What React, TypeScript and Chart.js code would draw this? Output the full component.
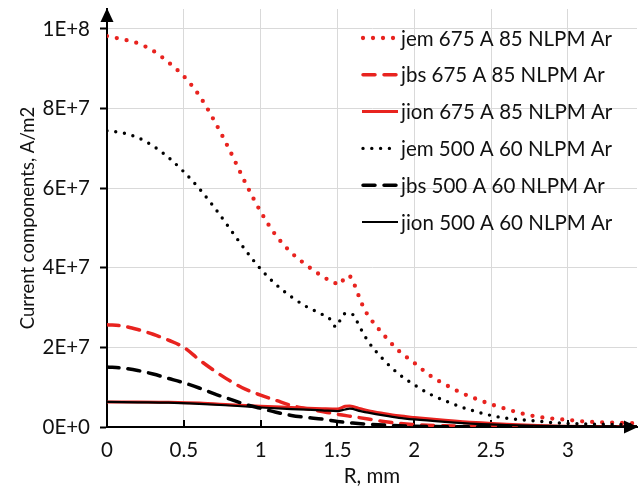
import React, { useEffect, useRef } from "react";
import { Chart, registerables } from "chart.js";

Chart.register(...registerables);

// ---------- data ----------
const seriesLabels = [
  "jem 675 A 85 NLPM Ar",
  "jbs 675 A 85 NLPM Ar",
  "jion 675 A 85 NLPM Ar",
  "jem 500 A 60 NLPM Ar",
  "jbs 500 A 60 NLPM Ar",
  "jion 500 A 60 NLPM Ar",
];

const xTickValues = [0, 0.5, 1, 1.5, 2, 2.5, 3];
const xTickLabels = ["0", "0.5", "1", "1.5", "2", "2.5", "3"];
const yTickValues = [0, 2e7, 4e7, 6e7, 8e7, 1e8];
const yTickLabels = ["0E+0", "2E+7", "4E+7", "6E+7", "8E+7", "1E+8"];

const jem675X = [0, 0.1, 0.2, 0.3, 0.4, 0.5, 0.6, 0.7, 0.8, 0.9, 1.0, 1.1, 1.2, 1.3, 1.4, 1.47, 1.52, 1.55, 1.58, 1.61, 1.64, 1.67, 1.7, 1.8, 1.9, 2.0, 2.1, 2.2, 2.3, 2.4, 2.5, 2.6, 2.7, 2.8, 2.9, 3.0, 3.1, 3.2, 3.3, 3.45];
const jem675Y = [9.82e7, 9.74e7, 9.64e7, 9.45e7, 9.16e7, 8.81e7, 8.33e7, 7.68e7, 6.94e7, 6.14e7, 5.41e7, 4.81e7, 4.38e7, 4.06e7, 3.79e7, 3.64e7, 3.58e7, 3.78e7, 3.78e7, 3.58e7, 3.28e7, 3.0e7, 2.8e7, 2.32e7, 1.91e7, 1.61e7, 1.3e7, 1.07e7, 0.87e7, 0.71e7, 0.57e7, 0.45e7, 0.34e7, 0.26e7, 0.21e7, 0.18e7, 0.14e7, 0.12e7, 0.11e7, 0.09e7];

const jbs675X = [0, 0.1, 0.2, 0.3, 0.4, 0.5, 0.6, 0.7, 0.8, 0.9, 1.0, 1.1, 1.2, 1.3, 1.4, 1.5, 1.6, 1.7, 1.8, 1.9, 2.0, 2.2, 2.5, 3.0, 3.45];
const jbs675Y = [2.57e7, 2.54e7, 2.45e7, 2.33e7, 2.18e7, 2.0e7, 1.69e7, 1.41e7, 1.16e7, 0.95e7, 0.8e7, 0.67e7, 0.54e7, 0.46e7, 0.39e7, 0.32e7, 0.26e7, 0.2e7, 0.14e7, 0.09e7, 0.06e7, 0.03e7, 0.015e7, 0.005e7, 0.002e7];

const jion675X = [0, 0.2, 0.4, 0.6, 0.8, 1.0, 1.2, 1.4, 1.5, 1.55, 1.58, 1.65, 1.7, 1.8, 1.9, 2.0, 2.2, 2.4, 2.6, 2.8, 3.0, 3.45];
const jion675Y = [0.63e7, 0.63e7, 0.62e7, 0.6e7, 0.56e7, 0.52e7, 0.49e7, 0.46e7, 0.45e7, 0.52e7, 0.53e7, 0.46e7, 0.41e7, 0.34e7, 0.28e7, 0.24e7, 0.17e7, 0.11e7, 0.07e7, 0.04e7, 0.02e7, 0.01e7];

const jem500X = [0, 0.1, 0.2, 0.3, 0.4, 0.5, 0.6, 0.7, 0.8, 0.9, 1.0, 1.1, 1.2, 1.3, 1.4, 1.46, 1.49, 1.52, 1.55, 1.59, 1.62, 1.65, 1.7, 1.8, 1.9, 2.0, 2.1, 2.2, 2.3, 2.4, 2.5, 2.6, 2.7, 2.8, 2.9, 3.0, 3.2, 3.45];
const jem500Y = [7.44e7, 7.39e7, 7.27e7, 7.06e7, 6.77e7, 6.41e7, 5.99e7, 5.51e7, 4.98e7, 4.45e7, 3.97e7, 3.58e7, 3.27e7, 3.02e7, 2.83e7, 2.68e7, 2.51e7, 2.7e7, 2.85e7, 2.85e7, 2.7e7, 2.48e7, 2.15e7, 1.69e7, 1.33e7, 1.06e7, 0.83e7, 0.66e7, 0.51e7, 0.39e7, 0.29e7, 0.22e7, 0.18e7, 0.15e7, 0.11e7, 0.09e7, 0.07e7, 0.06e7];

const jbs500X = [0, 0.1, 0.2, 0.3, 0.4, 0.5, 0.6, 0.7, 0.8, 0.9, 1.0, 1.1, 1.2, 1.3, 1.4, 1.5, 1.6, 1.7, 1.8, 2.0, 2.5, 3.45];
const jbs500Y = [1.51e7, 1.48e7, 1.42e7, 1.33e7, 1.22e7, 1.11e7, 0.98e7, 0.83e7, 0.7e7, 0.57e7, 0.47e7, 0.37e7, 0.29e7, 0.24e7, 0.2e7, 0.14e7, 0.1e7, 0.07e7, 0.05e7, 0.02e7, 0.005e7, 0.001e7];

const jion500X = [0, 0.2, 0.4, 0.6, 0.8, 1.0, 1.2, 1.4, 1.5, 1.55, 1.58, 1.65, 1.7, 1.8, 1.9, 2.0, 2.2, 2.4, 2.6, 2.8, 3.0, 3.45];
const jion500Y = [0.63e7, 0.62e7, 0.61e7, 0.58e7, 0.54e7, 0.49e7, 0.45e7, 0.42e7, 0.4e7, 0.44e7, 0.46e7, 0.4e7, 0.36e7, 0.29e7, 0.23e7, 0.19e7, 0.13e7, 0.08e7, 0.05e7, 0.03e7, 0.02e7, 0.01e7];

// ---------- styles ----------
const RED = "#e8231f";
const BLACK = "#000000";
const FONT = "Lato";
const FONT_SIZE = 20.5;
const TITLE_SIZE = 18.5;
const TEXT_COLOR = "#111111";

const pts = (xs: number[], ys: number[]) => xs.map((x, i) => ({ x, y: ys[i] }));

const styles = [
  { color: RED, width: 4.3, dash: [0, 10] },
  { color: RED, width: 3.5, dash: [12, 9] },
  { color: RED, width: 3, dash: [] as number[] },
  { color: BLACK, width: 3.4, dash: [0, 8.8] },
  { color: BLACK, width: 3.5, dash: [12, 9] },
  { color: BLACK, width: 2.2, dash: [] as number[] },
];

const seriesData = [
  pts(jem675X, jem675Y),
  pts(jbs675X, jbs675Y),
  pts(jion675X, jion675Y),
  pts(jem500X, jem500Y),
  pts(jbs500X, jbs500Y),
  pts(jion500X, jion500Y),
];

const decorPlugin = {
  id: "decor",
  beforeDatasetsDraw(chart: any) {
    const { ctx, chartArea, scales } = chart;
    const xs = scales.x;
    ctx.save();
    ctx.strokeStyle = "#000";
    ctx.lineWidth = 2;
    xTickValues.forEach((v) => {
      if (v === 0) return;
      const px = Math.round(xs.getPixelForValue(v));
      ctx.beginPath();
      ctx.moveTo(px, chartArea.bottom);
      ctx.lineTo(px, chartArea.bottom - 7);
      ctx.stroke();
    });
    ctx.restore();
  },
  afterDraw(chart: any) {
    const { ctx, chartArea } = chart;
    ctx.save();
    // arrowheads
    ctx.fillStyle = "#000";
    ctx.beginPath();
    ctx.moveTo(chartArea.left, chartArea.top - 1);
    ctx.lineTo(chartArea.left - 6.5, chartArea.top + 13);
    ctx.lineTo(chartArea.left + 6.5, chartArea.top + 13);
    ctx.closePath();
    ctx.fill();
    ctx.beginPath();
    ctx.moveTo(chartArea.right + 1, chartArea.bottom);
    ctx.lineTo(chartArea.right - 13, chartArea.bottom - 6.5);
    ctx.lineTo(chartArea.right - 13, chartArea.bottom + 6.5);
    ctx.closePath();
    ctx.fill();

    // legend
    const lx0 = chartArea.left + 255;
    const lx1 = chartArea.left + 291;
    const ty0 = 38;
    const step = 36.8;
    chart.data.datasets.forEach((ds: any, i: number) => {
      const y = ty0 + i * step;
      ctx.save();
      ctx.strokeStyle = ds.borderColor;
      ctx.lineWidth = ds.borderWidth;
      ctx.setLineDash(ds.borderDash || []);
      ctx.lineCap = ds.borderDash && ds.borderDash.length ? "round" : "butt";
      ctx.beginPath();
      ctx.moveTo(lx0 + (ds.borderDash && ds.borderDash.length ? 1 : 0), y);
      ctx.lineTo(lx1, y);
      ctx.stroke();
      ctx.restore();
      ctx.fillStyle = TEXT_COLOR;
      ctx.font = `${FONT_SIZE}px ${FONT}`;
      ctx.textBaseline = "middle";
      ctx.textAlign = "left";
      ctx.fillText(ds.label, lx1 + 3, y + 1);
    });
    ctx.restore();
  },
};

export default function App() {
  const ref = useRef<HTMLCanvasElement | null>(null);
  useEffect(() => {
    if (!ref.current) return;
    const font = { family: FONT, size: FONT_SIZE };
    const chart = new Chart(ref.current, {
      type: "line",
      data: {
        datasets: seriesLabels.map((label, i) => ({
          label,
          data: seriesData[i],
          borderColor: styles[i].color,
          backgroundColor: styles[i].color,
          borderWidth: styles[i].width,
          borderDash: styles[i].dash,
          borderCapStyle: styles[i].dash.length ? "round" : "butt",
          borderJoinStyle: "round",
          pointRadius: 0,
          fill: false,
          cubicInterpolationMode: "monotone",
          order: seriesLabels.length - i,
        })) as any,
      },
      options: {
        animation: false,
        responsive: false,
        devicePixelRatio: 1,
        layout: { padding: { left: 0, top: 9, right: 5, bottom: 0 } },
        plugins: { legend: { display: false }, tooltip: { enabled: false } },
        scales: {
          x: {
            type: "linear",
            bounds: "data",
            min: 0,
            max: 3.45,
            afterBuildTicks: (s: any) => {
              s.ticks = xTickValues.map((value) => ({ value }));
            },
            ticks: {
              padding: 11,
              font,
              color: TEXT_COLOR,
              maxRotation: 0,
              autoSkip: false,
              callback: (_v: any, i: number) => xTickLabels[i],
            },
            grid: { color: "#d9d9d9", lineWidth: 1, drawTicks: false },
            border: { color: "#000", width: 2 },
            title: { display: true, text: "R, mm", font, color: TEXT_COLOR, padding: { top: 0, bottom: 5 } },
            afterFit: (s: any) => {
              s.height = 67;
              s.paddingLeft = 0;
              s.paddingRight = 0;
            },
          },
          y: {
            type: "linear",
            bounds: "data",
            min: 0,
            max: 1.05e8,
            afterBuildTicks: (s: any) => {
              s.ticks = yTickValues.map((value) => ({ value }));
            },
            ticks: {
              padding: 10,
              font,
              color: TEXT_COLOR,
              autoSkip: false,
              callback: (_v: any, i: number) => yTickLabels[i],
            },
            grid: { color: "#d9d9d9", lineWidth: 1, tickLength: 7, tickColor: "#000", tickWidth: 2 },
            border: { color: "#000", width: 2 },
            title: {
              display: true,
              text: "Current components, A/m2",
              font: { family: FONT, size: TITLE_SIZE },
              color: TEXT_COLOR,
              padding: { top: 17, bottom: 0 },
            },
            afterFit: (s: any) => {
              s.width = 107;
              s.paddingTop = 0;
              s.paddingBottom = 0;
            },
          },
        },
      } as any,
      plugins: [decorPlugin],
    });
    return () => chart.destroy();
  }, []);
  return (
    <div style={{ position: "fixed", left: 0, top: 0, width: 642, height: 494, background: "#fff" }}>
      <canvas ref={ref} width={642} height={494} style={{ display: "block" }} />
    </div>
  );
}
